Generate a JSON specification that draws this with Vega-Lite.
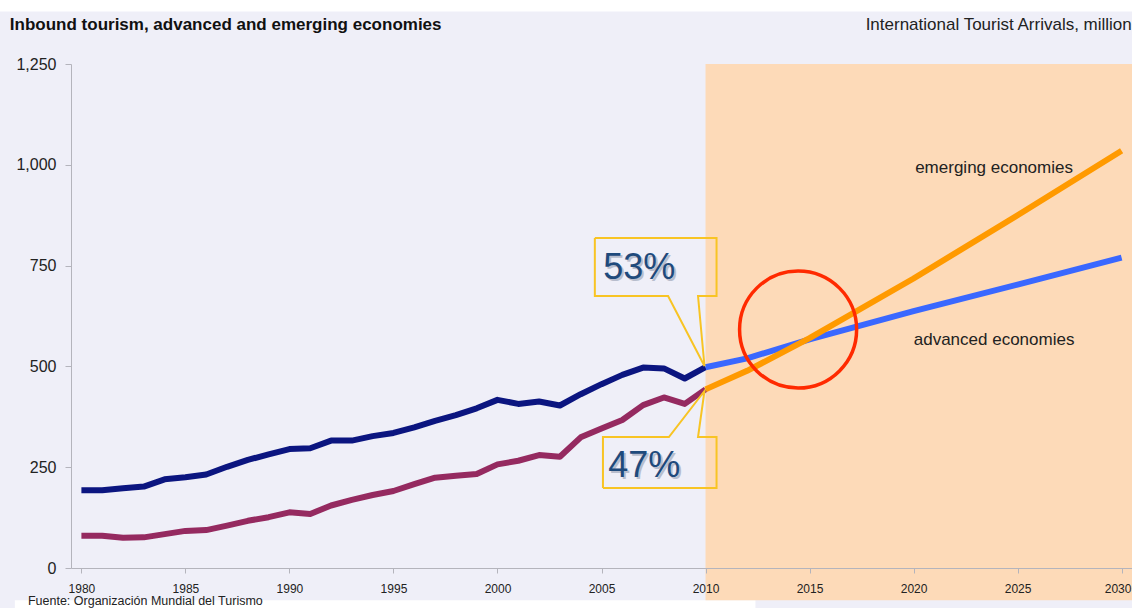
{
  "$schema": "https://vega.github.io/schema/vega-lite/v6.json",
  "width": 1061,
  "height": 504,
  "autosize": {"type": "none"},
  "padding": {"left": 71, "top": 64, "right": 0, "bottom": 40},
  "background": "#EFEFF8",
  "config": {"view": {"stroke": null}, "font": "Liberation Sans"},
  "datasets": {
    "bg": [
      {"year": 1976.0, "year2": 2030.7, "value": 1380, "value2": 1410},
      {"year": 1976.8, "year2": 2012.4, "value": -80, "value2": -100}
    ],
    "shade": [
      {"year": 2010, "year2": 2030.7, "value": -80, "value2": 1250}
    ],
    "series": [
      {"year": 1980, "value": 193, "segment": "adv_hist"},
      {"year": 1981, "value": 193, "segment": "adv_hist"},
      {"year": 1982, "value": 198, "segment": "adv_hist"},
      {"year": 1983, "value": 202, "segment": "adv_hist"},
      {"year": 1984, "value": 220, "segment": "adv_hist"},
      {"year": 1985, "value": 225, "segment": "adv_hist"},
      {"year": 1986, "value": 232, "segment": "adv_hist"},
      {"year": 1987, "value": 251, "segment": "adv_hist"},
      {"year": 1988, "value": 268, "segment": "adv_hist"},
      {"year": 1989, "value": 282, "segment": "adv_hist"},
      {"year": 1990, "value": 295, "segment": "adv_hist"},
      {"year": 1991, "value": 297, "segment": "adv_hist"},
      {"year": 1992, "value": 316, "segment": "adv_hist"},
      {"year": 1993, "value": 316, "segment": "adv_hist"},
      {"year": 1994, "value": 327, "segment": "adv_hist"},
      {"year": 1995, "value": 335, "segment": "adv_hist"},
      {"year": 1996, "value": 349, "segment": "adv_hist"},
      {"year": 1997, "value": 365, "segment": "adv_hist"},
      {"year": 1998, "value": 379, "segment": "adv_hist"},
      {"year": 1999, "value": 396, "segment": "adv_hist"},
      {"year": 2000, "value": 417, "segment": "adv_hist"},
      {"year": 2001, "value": 407, "segment": "adv_hist"},
      {"year": 2002, "value": 413, "segment": "adv_hist"},
      {"year": 2003, "value": 403, "segment": "adv_hist"},
      {"year": 2004, "value": 431, "segment": "adv_hist"},
      {"year": 2005, "value": 456, "segment": "adv_hist"},
      {"year": 2006, "value": 479, "segment": "adv_hist"},
      {"year": 2007, "value": 497, "segment": "adv_hist"},
      {"year": 2008, "value": 495, "segment": "adv_hist"},
      {"year": 2009, "value": 470, "segment": "adv_hist"},
      {"year": 2010, "value": 498, "segment": "adv_hist"},
      {"year": 1980, "value": 80, "segment": "emg_hist"},
      {"year": 1981, "value": 80, "segment": "emg_hist"},
      {"year": 1982, "value": 75, "segment": "emg_hist"},
      {"year": 1983, "value": 76, "segment": "emg_hist"},
      {"year": 1984, "value": 84, "segment": "emg_hist"},
      {"year": 1985, "value": 92, "segment": "emg_hist"},
      {"year": 1986, "value": 94, "segment": "emg_hist"},
      {"year": 1987, "value": 105, "segment": "emg_hist"},
      {"year": 1988, "value": 117, "segment": "emg_hist"},
      {"year": 1989, "value": 126, "segment": "emg_hist"},
      {"year": 1990, "value": 138, "segment": "emg_hist"},
      {"year": 1991, "value": 134, "segment": "emg_hist"},
      {"year": 1992, "value": 155, "segment": "emg_hist"},
      {"year": 1993, "value": 169, "segment": "emg_hist"},
      {"year": 1994, "value": 181, "segment": "emg_hist"},
      {"year": 1995, "value": 191, "segment": "emg_hist"},
      {"year": 1996, "value": 208, "segment": "emg_hist"},
      {"year": 1997, "value": 224, "segment": "emg_hist"},
      {"year": 1998, "value": 229, "segment": "emg_hist"},
      {"year": 1999, "value": 233, "segment": "emg_hist"},
      {"year": 2000, "value": 257, "segment": "emg_hist"},
      {"year": 2001, "value": 266, "segment": "emg_hist"},
      {"year": 2002, "value": 280, "segment": "emg_hist"},
      {"year": 2003, "value": 276, "segment": "emg_hist"},
      {"year": 2004, "value": 324, "segment": "emg_hist"},
      {"year": 2005, "value": 346, "segment": "emg_hist"},
      {"year": 2006, "value": 367, "segment": "emg_hist"},
      {"year": 2007, "value": 404, "segment": "emg_hist"},
      {"year": 2008, "value": 423, "segment": "emg_hist"},
      {"year": 2009, "value": 407, "segment": "emg_hist"},
      {"year": 2010, "value": 443, "segment": "emg_hist"},
      {"year": 2010, "value": 498, "segment": "adv_proj"},
      {"year": 2012, "value": 520, "segment": "adv_proj"},
      {"year": 2015, "value": 567, "segment": "adv_proj"},
      {"year": 2020, "value": 637, "segment": "adv_proj"},
      {"year": 2025, "value": 703, "segment": "adv_proj"},
      {"year": 2030, "value": 770, "segment": "adv_proj"},
      {"year": 2010, "value": 443, "segment": "emg_proj"},
      {"year": 2012, "value": 489, "segment": "emg_proj"},
      {"year": 2015, "value": 570, "segment": "emg_proj"},
      {"year": 2020, "value": 718, "segment": "emg_proj"},
      {"year": 2025, "value": 875, "segment": "emg_proj"},
      {"year": 2030, "value": 1035, "segment": "emg_proj"}
    ],
    "callouts": [
      {"id": "c53", "i": 0, "year": 2004.68, "value": 818.5},
      {"id": "c53", "i": 1, "year": 2010.53, "value": 818.5},
      {"id": "c53", "i": 2, "year": 2010.53, "value": 674.6},
      {"id": "c53", "i": 3, "year": 2009.64, "value": 674.6},
      {"id": "c53", "i": 4, "year": 2009.95, "value": 501},
      {"id": "c53", "i": 5, "year": 2008.2, "value": 674.6},
      {"id": "c53", "i": 6, "year": 2004.68, "value": 674.6},
      {"id": "c53", "i": 7, "year": 2004.68, "value": 818.5},
      {"id": "c47", "i": 0, "year": 2005.07, "value": 198.4},
      {"id": "c47", "i": 1, "year": 2010.53, "value": 198.4},
      {"id": "c47", "i": 2, "year": 2010.53, "value": 324.9},
      {"id": "c47", "i": 3, "year": 2009.64, "value": 324.9},
      {"id": "c47", "i": 4, "year": 2009.95, "value": 439},
      {"id": "c47", "i": 5, "year": 2008.24, "value": 324.9},
      {"id": "c47", "i": 6, "year": 2005.07, "value": 324.9},
      {"id": "c47", "i": 7, "year": 2005.07, "value": 198.4}
    ],
    "circle": [
      {"year": 2014.45, "value": 591.5}
    ],
    "texts": [
      {"year": 1976.56, "value": 1347, "label": "Inbound tourism, advanced and emerging economies", "kind": "title"},
      {"year": 2030.49, "value": 1347, "label": "International Tourist Arrivals, million", "kind": "unit"},
      {"year": 1977.43, "value": -83, "label": "Fuente: Organización Mundial del Turismo", "kind": "source"},
      {"year": 2023.87, "value": 992, "label": "emerging economies", "kind": "series"},
      {"year": 2023.87, "value": 565, "label": "advanced economies", "kind": "series"},
      {"year": 2006.82, "value": 744, "label": "53%", "kind": "pct"},
      {"year": 2007.06, "value": 253, "label": "47%", "kind": "pct"}
    ]
  },
  "encoding": {
    "x": {
      "field": "year",
      "type": "quantitative",
      "scale": {"domain": [1979.5, 2030.5], "nice": false, "zero": false},
      "axis": {
        "values": [1980, 1985, 1990, 1995, 2000, 2005, 2010, 2015, 2020, 2025, 2030],
        "format": "d",
        "title": null,
        "grid": false,
        "zindex": 1,
        "domainColor": "#B4B4BC",
        "tickColor": "#B4B4BC",
        "tickSize": 5,
        "labelPadding": 10,
        "labelFontSize": 12,
        "labelColor": "#222222",
        "labelFlush": false,
        "labelOffset": {"condition": {"test": "datum.value === 2030", "value": -4}, "value": 0},
        "labelFont": "Liberation Sans"
      }
    },
    "y": {
      "field": "value",
      "type": "quantitative",
      "scale": {"domain": [0, 1250], "nice": false, "zero": false},
      "axis": {
        "values": [0, 250, 500, 750, 1000, 1250],
        "format": ",.0f",
        "title": null,
        "grid": false,
        "zindex": 1,
        "domainColor": "#B4B4BC",
        "tickColor": "#B4B4BC",
        "tickSize": 6,
        "labelPadding": 9,
        "labelFontSize": 16,
        "labelColor": "#222222",
        "labelFont": "Liberation Sans"
      }
    }
  },
  "layer": [
    {
      "data": {"name": "bg"},
      "mark": {"type": "rect", "color": "#FFFFFF", "clip": false},
      "encoding": {"x2": {"field": "year2"}, "y2": {"field": "value2"}}
    },
    {
      "data": {"name": "shade"},
      "mark": {"type": "rect", "color": "#FDDAB8", "clip": false},
      "encoding": {"x2": {"field": "year2"}, "y2": {"field": "value2"}}
    },
    {
      "data": {"name": "series"},
      "mark": {"type": "line", "strokeWidth": 6, "strokeJoin": "round", "strokeCap": "butt"},
      "encoding": {
        "color": {
          "field": "segment",
          "type": "nominal",
          "scale": {
            "domain": ["adv_hist", "emg_hist", "adv_proj", "emg_proj"],
            "range": ["#0B1580", "#952A60", "#3A68FF", "#FF9A00"]
          },
          "legend": null
        },
        "detail": {"field": "segment"}
      }
    },
    {
      "data": {"name": "callouts"},
      "mark": {"type": "line", "stroke": "#F8C424", "strokeWidth": 2, "strokeJoin": "miter"},
      "encoding": {
        "detail": {"field": "id"},
        "order": {"field": "i", "type": "quantitative"}
      }
    },
    {
      "data": {"name": "circle"},
      "mark": {"type": "point", "shape": "circle", "filled": false, "stroke": "#FF2A00", "strokeWidth": 3.5, "size": 13700, "opacity": 1}
    },
    {
      "data": {"name": "texts"},
      "transform": [{"filter": "datum.kind === 'title'"}],
      "mark": {"type": "text", "align": "left", "baseline": "middle", "fontSize": 17, "fontWeight": "bold", "color": "#111111", "clip": false},
      "encoding": {"text": {"field": "label"}}
    },
    {
      "data": {"name": "texts"},
      "transform": [{"filter": "datum.kind === 'unit'"}],
      "mark": {"type": "text", "align": "right", "baseline": "middle", "fontSize": 17, "color": "#222222", "clip": false},
      "encoding": {"text": {"field": "label"}}
    },
    {
      "data": {"name": "texts"},
      "transform": [{"filter": "datum.kind === 'source'"}],
      "mark": {"type": "text", "align": "left", "baseline": "middle", "fontSize": 12.5, "color": "#222222", "clip": false},
      "encoding": {"text": {"field": "label"}}
    },
    {
      "data": {"name": "texts"},
      "transform": [{"filter": "datum.kind === 'series'"}],
      "mark": {"type": "text", "align": "center", "baseline": "middle", "fontSize": 17, "color": "#222222"},
      "encoding": {"text": {"field": "label"}}
    },
    {
      "data": {"name": "texts"},
      "transform": [{"filter": "datum.kind === 'pct'"}],
      "mark": {"type": "text", "align": "center", "baseline": "middle", "fontSize": 36, "color": "#8C96AA", "opacity": 0.55, "dx": 2, "dy": 2},
      "encoding": {"text": {"field": "label"}}
    },
    {
      "data": {"name": "texts"},
      "transform": [{"filter": "datum.kind === 'pct'"}],
      "mark": {"type": "text", "align": "center", "baseline": "middle", "fontSize": 36, "color": "#1F4A7C"},
      "encoding": {"text": {"field": "label"}}
    }
  ]
}
